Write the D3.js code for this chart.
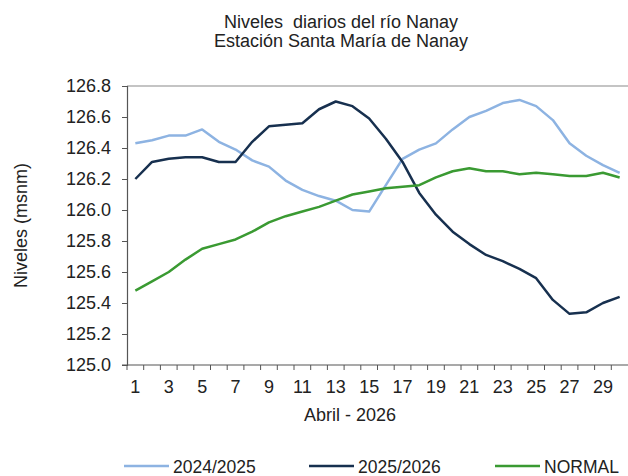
<!DOCTYPE html>
<html>
<head>
<meta charset="utf-8">
<script src="https://cdn.jsdelivr.net/npm/d3@7"></script>
<style>
  body { margin: 0; background: #fff; }
  svg { font-family: "Liberation Sans", Arial, sans-serif; }
</style>
</head>
<body>
<div id="chart"></div>
<script>
// dias de abril
var days = d3.range(1, 31);
var yTicks = [125.0, 125.2, 125.4, 125.6, 125.8, 126.0, 126.2, 126.4, 126.6, 126.8];

var serie2425 = [126.43, 126.45, 126.48, 126.48, 126.52, 126.44, 126.39, 126.32, 126.28, 126.19,
                 126.13, 126.09, 126.06, 126.00, 125.99, 126.16, 126.33, 126.39, 126.43, 126.52,
                 126.60, 126.64, 126.69, 126.71, 126.67, 126.58, 126.43, 126.35, 126.29, 126.24];
var serie2526 = [126.20, 126.31, 126.33, 126.34, 126.34, 126.31, 126.31, 126.44, 126.54, 126.55,
                 126.56, 126.65, 126.70, 126.67, 126.59, 126.46, 126.31, 126.11, 125.97, 125.86,
                 125.78, 125.71, 125.67, 125.62, 125.56, 125.42, 125.33, 125.34, 125.40, 125.44];
var normal    = [125.48, 125.54, 125.60, 125.68, 125.75, 125.78, 125.81, 125.86, 125.92, 125.96,
                 125.99, 126.02, 126.06, 126.10, 126.12, 126.14, 126.15, 126.16, 126.21, 126.25,
                 126.27, 126.25, 126.25, 126.23, 126.24, 126.23, 126.22, 126.22, 126.24, 126.21];

var series = [
  { name: "2024/2025", values: serie2425, color: "#8db3e2" },
  { name: "2025/2026", values: serie2526, color: "#17304f" },
  { name: "NORMAL",    values: normal,    color: "#3a9a32" }
];

var W = 628, H = 476;
var margin = { top: 86, right: 0, bottom: 111, left: 127 };
var width = 501, height = H - margin.top - margin.bottom;
var fs = "18px";

var svg = d3.select("#chart").append("svg")
  .attr("width", W)
  .attr("height", H);

var g = svg.append("g")
  .attr("transform", "translate(" + margin.left + "," + margin.top + ")");

var x = d3.scaleBand().domain(days).range([0, width]);
var y = d3.scaleLinear().domain([125, 126.8]).range([height, 0]);

// marco superior
g.append("line")
  .attr("x1", 0).attr("x2", W - margin.left)
  .attr("y1", 0).attr("y2", 0)
  .attr("stroke", "#b0b0b0").attr("stroke-width", 1.5);

// eje y
var yAxis = g.append("g")
  .call(d3.axisLeft(y).tickValues(yTicks).tickSize(5).tickFormat(d3.format(".1f")));
yAxis.select(".domain").attr("stroke", "#555").attr("stroke-width", 1.2);
yAxis.selectAll(".tick line").attr("stroke", "#555");
yAxis.selectAll("text")
  .attr("x", -16)
  .attr("fill", "#222")
  .style("font-size", fs)
  .style("font-family", "Liberation Sans, Arial, sans-serif");

// eje x (marcas entre categorias)
var xg = g.append("g").attr("transform", "translate(0," + height + ")");
xg.append("line")
  .attr("x1", -5).attr("x2", width)
  .attr("stroke", "#555").attr("stroke-width", 1.2);
xg.selectAll(".xt")
  .data(days)
  .enter().append("line")
    .attr("class", "xt")
    .attr("x1", function(d) { return x(d); })
    .attr("x2", function(d) { return x(d); })
    .attr("y1", 0).attr("y2", 5)
    .attr("stroke", "#555");
xg.selectAll(".xl")
  .data(days.filter(function(d) { return d % 2 == 1; }))
  .enter().append("text")
    .attr("class", "xl")
    .attr("x", function(d) { return x(d) + x.bandwidth() / 2; })
    .attr("y", 28)
    .attr("text-anchor", "middle")
    .attr("fill", "#222")
    .style("font-size", fs)
    .text(function(d) { return d; });

// lineas
var line = d3.line()
  .x(function(d, i) { return x(days[i]) + x.bandwidth() / 2; })
  .y(function(d) { return y(d); });

series.forEach(function(s) {
  g.append("path")
    .datum(s.values)
    .attr("fill", "none")
    .attr("stroke", s.color)
    .attr("stroke-width", 2.5)
    .attr("stroke-linejoin", "round")
    .attr("d", line);
});

// titulos
svg.append("text")
  .attr("x", 341).attr("y", 28)
  .attr("text-anchor", "middle")
  .attr("fill", "#222")
  .style("font-size", fs)
  .attr("xml:space", "preserve")
  .text("Niveles  diarios del río Nanay");
svg.append("text")
  .attr("x", 341).attr("y", 47)
  .attr("text-anchor", "middle")
  .attr("fill", "#222")
  .style("font-size", fs)
  .text("Estación Santa María de Nanay");

svg.append("text")
  .attr("transform", "translate(27," + (margin.top + height / 2) + ") rotate(-90)")
  .attr("text-anchor", "middle")
  .attr("fill", "#222")
  .style("font-size", fs)
  .text("Niveles (msnm)");

svg.append("text")
  .attr("x", 350).attr("y", 421)
  .attr("text-anchor", "middle")
  .attr("fill", "#222")
  .style("font-size", fs)
  .text("Abril - 2026");

// leyenda
var legendX = [124, 309, 495];
var legend = svg.selectAll(".legend")
  .data(series)
  .enter().append("g")
    .attr("class", "legend")
    .attr("transform", function(d, i) { return "translate(" + legendX[i] + ",466)"; });
legend.append("line")
  .attr("x1", 0).attr("x2", 45)
  .attr("stroke", function(d) { return d.color; })
  .attr("stroke-width", 2.5);
legend.append("text")
  .attr("x", 49).attr("y", 6.5)
  .attr("fill", "#222")
  .style("font-size", "17.5px")
  .text(function(d) { return d.name; });
</script>
</body>
</html>
